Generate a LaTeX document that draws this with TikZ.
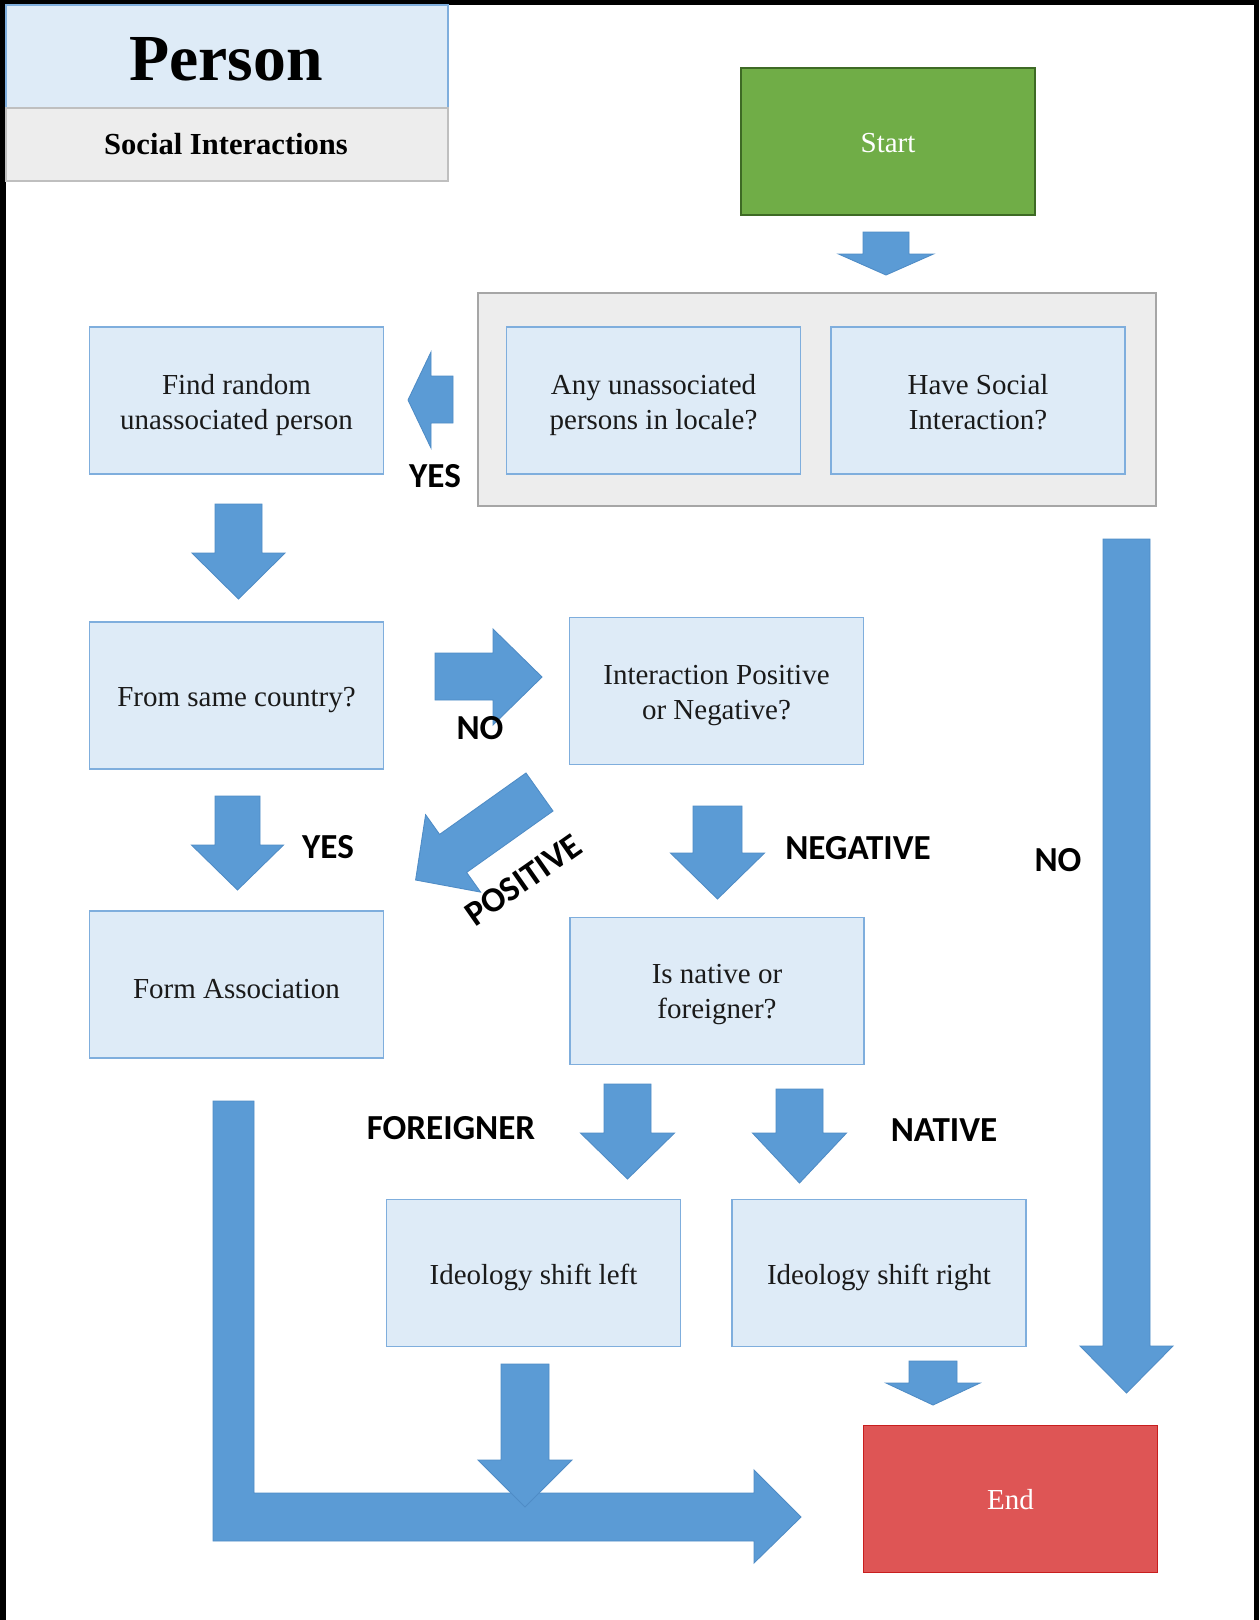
\documentclass[tikz,border=0pt]{standalone}
\usepackage{fontspec}
\setmainfont{Liberation Serif}
\newfontfamily\labelfont{Carlito}
\definecolor{boxfill}{HTML}{DEEBF7}
\definecolor{boxline}{HTML}{7FAEDD}
\definecolor{arrowfill}{HTML}{5B9BD5}
\definecolor{arrowline}{HTML}{4F8CC6}
\definecolor{panelfill}{HTML}{EDEDED}
\definecolor{panelline}{HTML}{A6A6A6}
\definecolor{subline}{HTML}{BFBFBF}
\definecolor{startfill}{HTML}{70AD47}
\definecolor{startline}{HTML}{3E6A25}
\definecolor{endfill}{HTML}{DE5555}
\definecolor{endline}{HTML}{C81E1E}
\definecolor{ink}{HTML}{1A1A1A}

% down-pointing block arrow: centre x, top y, shaft half width, head y, head half width, tip y
\newcommand{\dnarrow}[6]{%
  \path[blk] (#1-#3,#2) -- (#1+#3,#2) -- (#1+#3,#4) -- (#1+#5,#4) -- (#1,#6)
    -- (#1-#5,#4) -- (#1-#3,#4) -- cycle;}

% a flowchart box (box options, name, centre, text colour, text drop, text)
\newcommand{\procbox}[6][]{%
  \node[box,#1] (#2) at (#3) {};
  \node[boxtext, text=#4] (#2-text) at ([yshift=-#5]#2.center) {#6};}

\begin{document}
\begin{tikzpicture}[x=0.02cm,y=-0.02cm,
  box/.style={draw=boxline, fill=boxfill, line width=0.7pt, minimum width=5.88cm,
    minimum height=2.94cm, inner sep=0pt},
  boxtext/.style={inner sep=0pt, align=center, font=\fontsize{16.5}{20}\selectfont},
  tag/.style={font=\labelfont\bfseries\fontsize{20}{24}\selectfont, inner sep=0pt, text=black},
  blk/.style={fill=arrowfill, draw=arrowline, line width=0.5pt, line join=miter}]

\useasboundingbox (0,0) rectangle (1259,1620);
\fill[white] (0,0) rectangle (1259,1620);

% page frame
\fill[black] (0,0) rectangle (6,1620);
\fill[black] (0,0) rectangle (1259,5);
\fill[black] (1254,0) rectangle (1259,1620);

% title block
\node[draw=boxline, fill=boxfill, line width=0.7pt, minimum width=8.84cm,
  minimum height=2.06cm, inner sep=0pt] (titletop) at (227,56.5) {};
\node[draw=subline, fill=panelfill, line width=0.7pt, minimum width=8.84cm,
  minimum height=1.46cm, inner sep=0pt] (titlesub) at (227,144.5) {};
\node[anchor=base, inner sep=0pt, font=\bfseries\fontsize{37.4}{40}\selectfont]
  (titletext) at (226,80) {Person};
\node[anchor=base, inner sep=0pt, font=\bfseries\fontsize{17.4}{20}\selectfont]
  (subtext) at (226,154) {Social Interactions};

% start / end
\procbox[fill=startfill, draw=startline]{start}{888,141.5}{white}{1pt}{Start}
\procbox[fill=endfill, draw=endline]{finish}{1010.5,1499}{white}{0.6pt}{End}

% decision panel
\node[draw=panelline, fill=panelfill, line width=0.7pt, minimum width=13.56cm,
  minimum height=4.26cm, inner sep=0pt] (panel) at (817,399.5) {};
\procbox{any}{653.5,400.5}{ink}{2.5pt}{Any unassociated\\persons in locale?}
\procbox{have}{978,400.5}{ink}{0.8pt}{Have Social\\Interaction?}

% process boxes
\procbox{find}{236.5,400.5}{ink}{2.5pt}{Find random\\unassociated person}
\procbox{same}{236.5,695.5}{ink}{2.5pt}{From same country?}
\procbox{inter}{716.5,691}{ink}{2.5pt}{Interaction Positive\\or Negative?}
\procbox{form}{236.5,984.5}{ink}{2.5pt}{Form Association}
\procbox{native}{717,991}{ink}{2.2pt}{Is native or\\foreigner?}
\procbox{shleft}{533.5,1273}{ink}{2.5pt}{Ideology shift left}
\procbox{shright}{879,1273}{ink}{2.5pt}{Ideology shift right}

% block arrows
\dnarrow{886}{232}{23}{254}{47.5}{275}
\path[blk] (453,376) -- (453,423) -- (431,423) -- (431,448) -- (408,400)
  -- (431,352) -- (431,376) -- cycle;
\dnarrow{238.5}{504}{23.5}{553}{46.5}{599}
\path[blk] (435,653) -- (493,653) -- (493,629) -- (542,677) -- (493,725)
  -- (493,700) -- (435,700) -- cycle;
\path[blk] (526,773) -- (553,811) -- (466.6,872.4) -- (480.6,892.1) -- (415.6,880)
  -- (425.6,814.7) -- (439.6,834.4) -- cycle;
\dnarrow{717.5}{806}{24.5}{853}{47}{899}
\dnarrow{237.5}{796}{22.5}{845}{46}{890}
\dnarrow{1126.5}{539}{23.5}{1346}{46.5}{1393}
\dnarrow{627.5}{1084}{23.5}{1133}{47}{1179}
\dnarrow{799.5}{1089}{23.5}{1133}{47}{1183}
\dnarrow{933}{1361}{24}{1383}{47}{1405}
\path[blk] (213,1101) -- (254,1101) -- (254,1493) -- (754,1493) -- (754,1470)
  -- (801,1517) -- (754,1563) -- (754,1541) -- (213,1541) -- cycle;
\dnarrow{525}{1364}{24}{1460}{47}{1507}

% branch labels
\node[tag] (yes1) at (435,476) {YES};
\node[tag] (no1) at (480,728) {NO};
\node[tag, rotate=35] (pos) at (523,880) {POSITIVE};
\node[tag] (yes2) at (328,847) {YES};
\node[tag] (neg) at (858,848) {NEGATIVE};
\node[tag] (no2) at (1058,860) {NO};
\node[tag] (forg) at (451,1128) {FOREIGNER};
\node[tag] (nat) at (944,1130) {NATIVE};
\end{tikzpicture}
\end{document}
